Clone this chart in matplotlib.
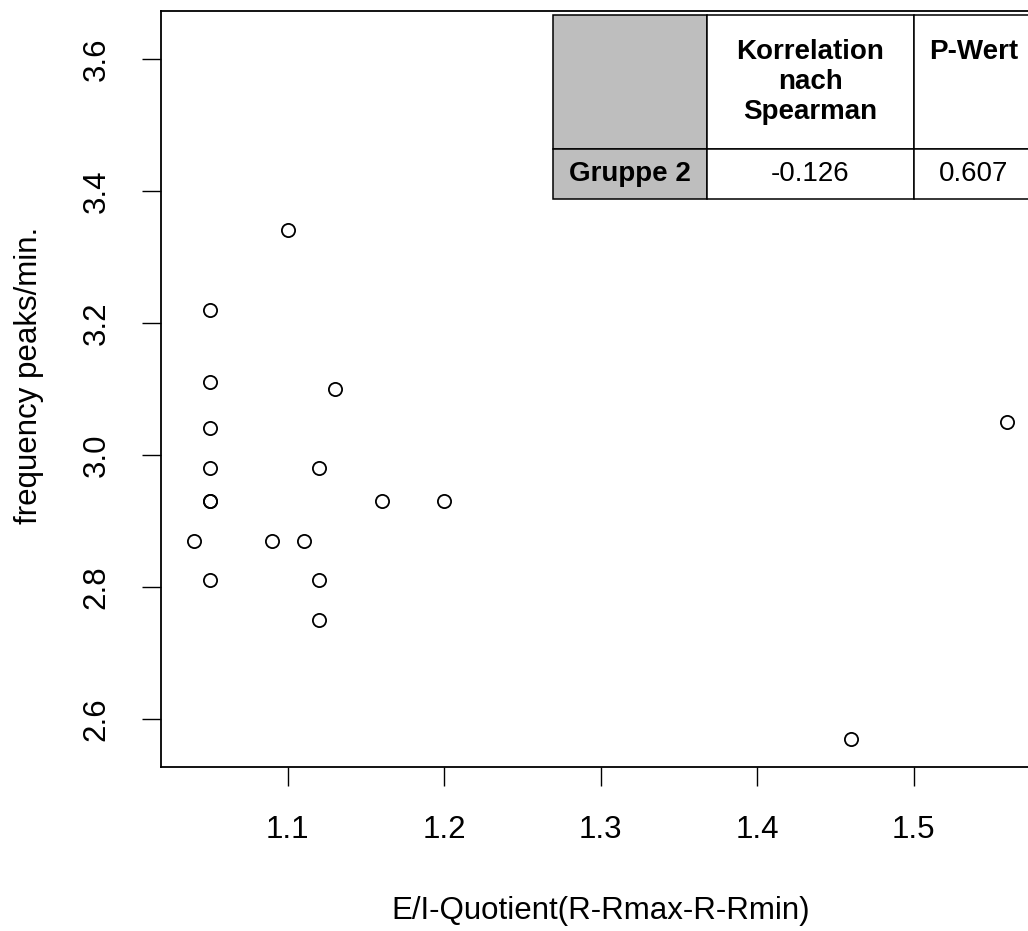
import matplotlib
matplotlib.use("Agg")
import matplotlib.pyplot as plt

plt.rcParams['font.family'] = ['Liberation Sans', 'DejaVu Sans']

# E/I quotient vs. frequency of peaks (Gruppe 2)
ei_quotient = [1.10, 1.05, 1.05, 1.13, 1.05, 1.05, 1.12, 1.05, 1.05, 1.16,
               1.20, 1.04, 1.09, 1.11, 1.05, 1.12, 1.12, 1.56, 1.46]
freq_peaks = [3.34, 3.22, 3.11, 3.10, 3.04, 2.98, 2.98, 2.93, 2.93, 2.93,
              2.93, 2.87, 2.87, 2.87, 2.81, 2.81, 2.75, 3.05, 2.57]

x_ticks = [1.1, 1.2, 1.3, 1.4, 1.5]
y_ticks = [2.6, 2.8, 3.0, 3.2, 3.4, 3.6]

table_rows = ["", "Gruppe 2"]
table_header = ["Korrelation\nnach\nSpearman", "P-Wert\n \n "]
table_values = ["-0.126", "0.607"]

fig = plt.figure(figsize=(10.28, 9.31), dpi=100)
ax = fig.add_axes([161/1028, 1 - 767/931, 879/1028, 756.3/931])

ax.plot(ei_quotient, freq_peaks, linestyle='none', marker='o', markersize=9.5,
        markerfacecolor='none', markeredgecolor='black', markeredgewidth=1.3)

ax.set_xlim(1.0189, 1.5808)
ax.set_ylim(2.527, 3.673)
ax.set_xticks(x_ticks)
ax.set_xticklabels([str(v) for v in x_ticks])
ax.set_yticks(y_ticks)
ax.set_yticklabels(["%.1f" % v for v in y_ticks], rotation=90, va='center')
ax.tick_params(direction='out', length=13.5, width=1.0, labelsize=22.5)
ax.tick_params(axis='x', pad=21)
ax.tick_params(axis='y', pad=22)
for s in ax.spines.values():
    s.set_linewidth(1.3)

ax.set_xlabel("E/I-Quotient(R-Rmax-R-Rmin)", fontsize=22.5, labelpad=37)
ax.set_ylabel("frequency peaks/min.", fontsize=22.5)
ax.yaxis.set_label_coords((44 - 161)/879, (767 - 375)/756.3)

# correlation table in the top right corner
grey = '#bebebe'
cell_text = [[table_rows[0]] + table_header, [table_rows[1]] + table_values]
cell_colours = [[grey, 'white', 'white'], [grey, 'white', 'white']]
tab = ax.table(cellText=cell_text, cellColours=cell_colours,
               colWidths=[154, 207, 120], cellLoc='center',
               bbox=[(553 - 161)/879, (767 - 199)/756.3, 481/879, 184/756.3])
tab.auto_set_font_size(False)
for (r, c), cell in tab.get_celld().items():
    cell.set_linewidth(1.1)
    cell.set_height(134 if r == 0 else 50)
    t = cell.get_text()
    t.set_fontsize(20)
    if r == 0 or c == 0:
        t.set_fontweight('bold')

fig.savefig("out.png", dpi=100)
